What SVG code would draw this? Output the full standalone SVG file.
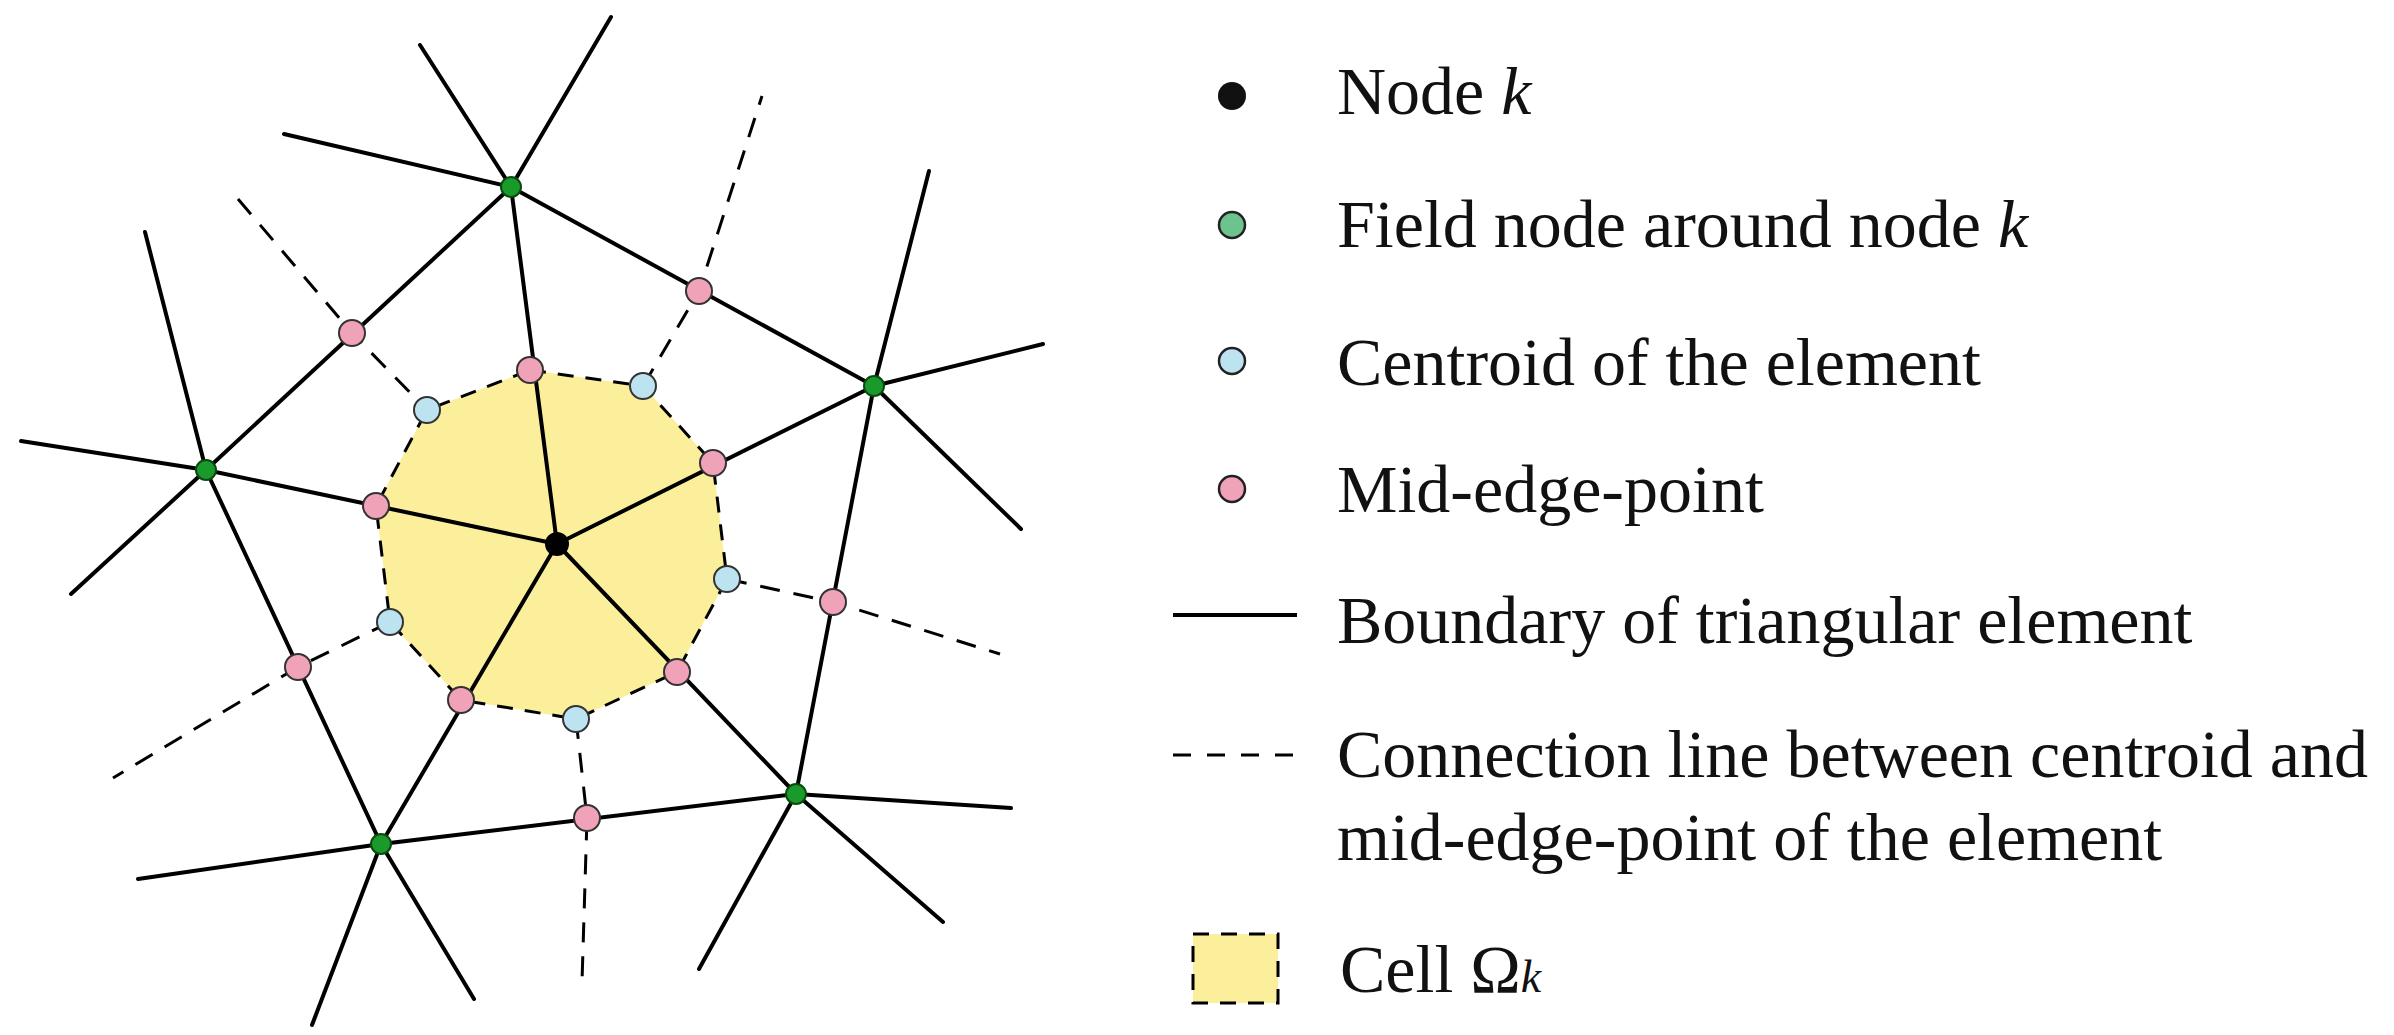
<svg xmlns="http://www.w3.org/2000/svg" width="2394" height="1035" viewBox="0 0 2394 1035">
<style>
.s{stroke:#000;stroke-width:4;fill:none;stroke-linecap:round}
.d{stroke:#000;stroke-width:3;fill:none;stroke-dasharray:20 14}
.g{fill:#1a9a2a;stroke:#0a4a10;stroke-width:2}
.p{fill:#f0a3b8;stroke:#333;stroke-width:2}
.b{fill:#bde3f0;stroke:#333;stroke-width:2}
.k{fill:#000}
.t{font-family:"Liberation Serif",serif;font-size:68px;fill:#111}
</style>
<rect width="2394" height="1035" fill="#fff"/>
<g id="cell"><polygon points="530,370 643,386 713,463 727,579 677,672 576,719 461,700 390,622 376,506 427,410" fill="#fbef9c" stroke="#000" stroke-width="3" stroke-dasharray="16 12"/></g>
<g id="connectors">
<path class="s" d="M511,187L557,544M874,386L557,544M206,470L557,544M796,794L557,544M381,844L557,544"/>
<path class="s" d="M511,187L874,386L796,794L381,844L206,470Z"/>
<path class="s" d="M511,187L420,45M511,187L611,17M511,187L284,134M874,386L929,171M874,386L1043,344M874,386L1021,529M206,470L145,232M206,470L21,441M206,470L71,594M796,794L1011,808M796,794L943,922M796,794L699,969M381,844L138,879M381,844L312,1025M381,844L474,999"/>
<path class="d" d="M238,199L352,333L427,410M643,386L699,291L762,96M727,579L833,602L1000,654M390,622L298,667L113,778M576,719L587,818L582,982"/>
</g>
<g id="nodes">
<circle class="k" cx="557" cy="544" r="12"/>
<circle class="g" cx="511" cy="187" r="10"/><circle class="g" cx="874" cy="386" r="10"/><circle class="g" cx="206" cy="470" r="10"/><circle class="g" cx="796" cy="794" r="10"/><circle class="g" cx="381" cy="844" r="10"/>
<circle class="p" cx="530" cy="370" r="13"/><circle class="p" cx="713" cy="463" r="13"/><circle class="p" cx="376" cy="506" r="13"/><circle class="p" cx="677" cy="672" r="13"/><circle class="p" cx="461" cy="700" r="13"/>
<circle class="p" cx="699" cy="291" r="13"/><circle class="p" cx="352" cy="333" r="13"/><circle class="p" cx="833" cy="602" r="13"/><circle class="p" cx="298" cy="667" r="13"/><circle class="p" cx="587" cy="818" r="13"/>
<circle class="b" cx="427" cy="410" r="13"/><circle class="b" cx="643" cy="386" r="13"/><circle class="b" cx="727" cy="579" r="13"/><circle class="b" cx="390" cy="622" r="13"/><circle class="b" cx="576" cy="719" r="13"/>
</g>
<g id="legend">
<circle cx="1232" cy="96" r="14" fill="#111"/>
<text class="t" x="1337" y="114">Node <tspan font-style="italic">k</tspan></text>
<circle cx="1232" cy="225" r="13" fill="#6cc48c" stroke="#222" stroke-width="2.5"/>
<text class="t" x="1337" y="247">Field node around node <tspan font-style="italic">k</tspan></text>
<circle cx="1232" cy="361" r="13" fill="#bde3f0" stroke="#222" stroke-width="2.5"/>
<text class="t" x="1337" y="385">Centroid of the element</text>
<circle cx="1232" cy="489" r="13" fill="#f0a3b8" stroke="#222" stroke-width="2.5"/>
<text class="t" x="1337" y="512">Mid-edge-point</text>
<line x1="1173" y1="615" x2="1297" y2="615" stroke="#000" stroke-width="4"/>
<text class="t" x="1337" y="643">Boundary of triangular element</text>
<line x1="1173" y1="755" x2="1297" y2="755" stroke="#000" stroke-width="3" stroke-dasharray="18 16"/>
<text class="t" x="1337" y="777">Connection line between centroid and</text>
<text class="t" x="1337" y="860">mid-edge-point of the element</text>
<rect x="1193" y="934" width="85" height="69" fill="#fbef9c" stroke="#000" stroke-width="3" stroke-dasharray="16 12"/>
<text class="t" x="1340" y="992">Cell Ω<tspan font-style="italic" font-size="46">k</tspan></text>
</g>
</svg>
